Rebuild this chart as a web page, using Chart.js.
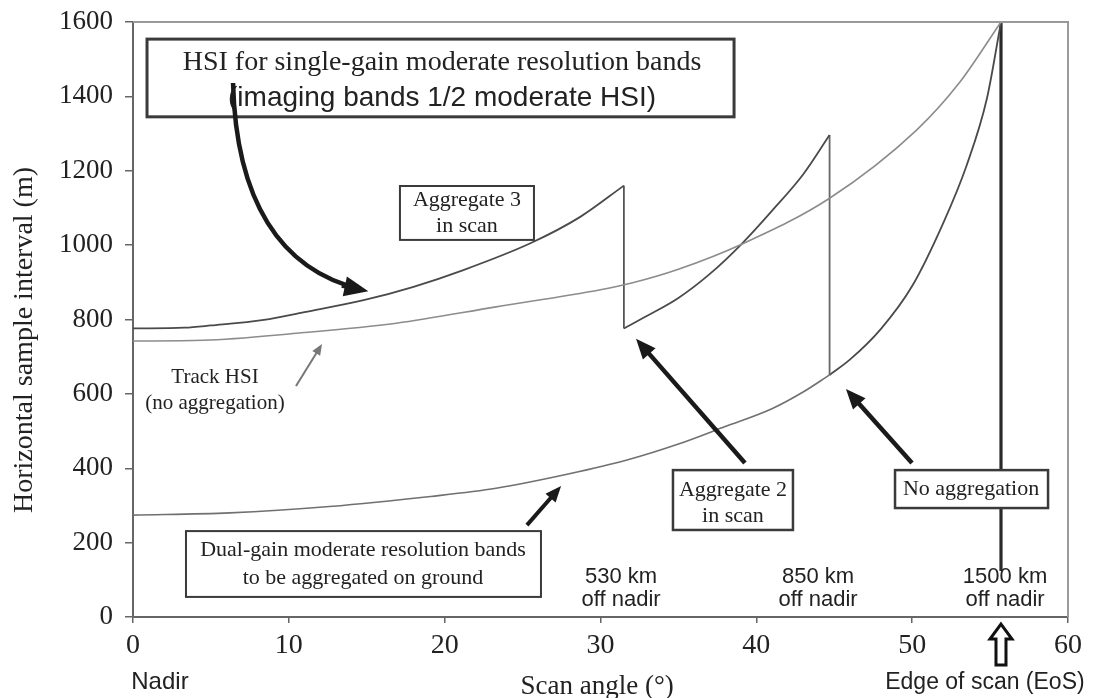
<!DOCTYPE html>
<html>
<head>
<meta charset="utf-8">
<script src="https://cdn.jsdelivr.net/npm/chart.js@4.4.1/dist/chart.umd.min.js"></script>
<style>
html,body{margin:0;padding:0;background:#fff}
#wrap{width:1094px;height:698px}
</style>
</head>
<body>
<div id="wrap"><canvas id="c"></canvas></div>
<script>
// scan angle (deg) and horizontal sample interval (m)
const eos=55.7;
const agg3X=[0,3.3,5,8.4,11,14.8,18,21.2,25.5,28.7,31.5];
const agg3Y=[776,778,784,799,820,852,888,933,1005,1076,1160];
const agg2X=[31.5,33,35,37,39.1,41,43,44.7];
const agg2Y=[776,810,858,922,1005,1092,1190,1296];
const noAggX=[44.7,46,48,50,52,53.5,54.8,55.7];
const noAggY=[651,692,775,890,1060,1215,1395,1600];
const dualX=[0,6.2,12.6,19.1,23.3,28,31.7,35,38,41,43,44.7];
const dualY=[274,280,297,324,346,385,422,465,512,560,605,651];
const trackX=[0,4.5,10.5,16.9,23.3,30,32,35,39.2,44.7,50.3,53,55.7];
const trackY=[742,744,763,790,834,880,898,935,1005,1126,1310,1435,1600];
const eosY=[1600,124];
const xTicks=[0,10,20,30,40,50,60];
const yTicks=[0,200,400,600,800,1000,1200,1400,1600];

const SERIF="'Liberation Serif','Times New Roman',serif";
const SANS="'Liberation Sans',Arial,sans-serif";
const INK="#222";

function pts(xs,ys){return xs.map((x,i)=>({x:x,y:ys[i]}));}
function line(data,color,width){
 return {data:data,borderColor:color,borderWidth:width,pointRadius:0,showLine:true,
  cubicInterpolationMode:'monotone',fill:false};
}

const datasets=[
 line(pts(trackX,trackY),'#8c8c8c',1.6),
 line(pts(dualX,dualY),'#707070',1.6),
 line(pts(agg3X,agg3Y),'#4a4a4a',1.8),
 line([{x:agg3X[agg3X.length-1],y:agg3Y[agg3Y.length-1]},{x:agg2X[0],y:agg2Y[0]}],'#555',1.8),
 line(pts(agg2X,agg2Y),'#4a4a4a',1.8),
 line([{x:agg2X[agg2X.length-1],y:agg2Y[agg2Y.length-1]},{x:noAggX[0],y:noAggY[0]}],'#666',1.8),
 line(pts(noAggX,noAggY),'#4a4a4a',1.8),
 line(pts([eos,eos],eosY),'#2a2a2a',3.2)
];

function arrow(ctx,x1,y1,x2,y2,lw,head,col){
 const a=Math.atan2(y2-y1,x2-x1),c=Math.cos(a),s=Math.sin(a);
 ctx.strokeStyle=col;ctx.fillStyle=col;ctx.lineWidth=lw;ctx.lineCap='butt';
 ctx.beginPath();ctx.moveTo(x1,y1);ctx.lineTo(x2-c*head*0.8,y2-s*head*0.8);ctx.stroke();
 ctx.beginPath();ctx.moveTo(x2,y2);
 ctx.lineTo(x2-head*c+head*0.42*s,y2-head*s-head*0.42*c);
 ctx.lineTo(x2-head*c-head*0.42*s,y2-head*s+head*0.42*c);
 ctx.closePath();ctx.fill();
}

const notes={
 id:'notes',
 afterDatasetsDraw(chart){
  const ctx=chart.ctx,X=v=>chart.scales.x.getPixelForValue(v),Y=v=>chart.scales.y.getPixelForValue(v);
  const a=chart.chartArea;
  ctx.save();
  // frame top/right
  ctx.strokeStyle='#9a9a9a';ctx.lineWidth=2;
  ctx.beginPath();ctx.moveTo(a.left,a.top);ctx.lineTo(a.right,a.top);ctx.lineTo(a.right,a.bottom);ctx.stroke();

  function box(x1,x2,y1,y2,lw){
   const l=X(x1),r=X(x2),t=Y(y1),b=Y(y2);
   ctx.fillStyle='#fff';ctx.fillRect(l,t,r-l,b-t);
   ctx.strokeStyle='#3a3a3a';ctx.lineWidth=lw;ctx.strokeRect(l,t,r-l,b-t);
  }
  function text(s,x,y,font,col){
   ctx.fillStyle=col||INK;ctx.font=font;ctx.textAlign='center';ctx.textBaseline='middle';
   ctx.fillText(s,X(x),Y(y));
  }

  // title box
  box(0.9,38.57,1554,1345,3);
  text('HSI for single-gain moderate resolution bands',19.83,1492,'28px '+SERIF);
  text('(imaging bands 1/2 moderate HSI)',19.83,1396,'28px '+SANS);

  // curved arrow
  ctx.strokeStyle='#1a1a1a';ctx.lineWidth=4.5;
  const sx=X(6.42),sy=Y(1436),c1x=X(6.61),c1y=Y(1121),c2x=X(9.43),c2y=Y(933),ex=X(14.6),ey=Y(882);
  ctx.beginPath();ctx.moveTo(sx,sy);ctx.bezierCurveTo(c1x,c1y,c2x,c2y,ex,ey);ctx.stroke();
  arrow(ctx,X(13.4),Y(891),X(15.1),Y(876),4.5,24,'#1a1a1a');

  box(17.13,25.73,1159,1014,2);
  text('Aggregate 3',21.43,1121,'22px '+SERIF);
  text('in scan',21.43,1051,'22px '+SERIF);

  text('Track HSI',5.26,645,'21px '+SERIF);
  text('(no aggregation)',5.26,575,'21px '+SERIF);
  arrow(ctx,X(10.46),Y(621),X(12.13),Y(734),2,11,'#777');

  arrow(ctx,X(25.28),Y(247),X(27.47),Y(352),4,16,'#1a1a1a');
  box(3.4,26.18,231,54,2);
  text('Dual-gain moderate resolution bands',14.76,180,'22px '+SERIF);
  text('to be aggregated on ground',14.76,105,'22px '+SERIF);

  arrow(ctx,X(39.27),Y(414),X(32.28),Y(748),4.5,20,'#1a1a1a');
  box(34.65,42.35,395,234,2.5);
  text('Aggregate 2',38.5,341,'22px '+SERIF);
  text('in scan',38.5,272,'22px '+SERIF);

  arrow(ctx,X(49.99),Y(414),X(45.75),Y(613),4.5,20,'#1a1a1a');
  box(48.9,58.72,395,293,2.5);
  text('No aggregation',53.78,344,'22px '+SERIF);

  text('530 km',31.32,108,'22px '+SANS);
  text('off nadir',31.32,46,'22px '+SANS);
  text('850 km',43.96,108,'22px '+SANS);
  text('off nadir',43.96,46,'22px '+SANS);
  text('1500 km',55.96,108,'22px '+SANS);
  text('off nadir',55.96,46,'22px '+SANS);

  // labels under the axis
  text('Nadir',1.73,-177,'24px '+SANS);
  text('Scan angle (\u00b0)',29.78,-188,'27px '+SERIF);
  text('Edge of scan (EoS)',54.67,-177,'23px '+SANS);

  // hollow EoS arrow
  const cx=X(eos),ty=Y(-19),by=Y(-129);
  ctx.beginPath();
  ctx.moveTo(cx,ty);ctx.lineTo(cx+11,ty+15);ctx.lineTo(cx+5,ty+15);ctx.lineTo(cx+5,by);
  ctx.lineTo(cx-5,by);ctx.lineTo(cx-5,ty+15);ctx.lineTo(cx-11,ty+15);ctx.closePath();
  ctx.fillStyle='#fff';ctx.fill();ctx.strokeStyle='#111';ctx.lineWidth=3;ctx.stroke();

  // y axis title
  ctx.translate(X(-6.93),Y(745));ctx.rotate(-Math.PI/2);
  ctx.fillStyle=INK;ctx.font='28px '+SERIF;ctx.textAlign='center';ctx.textBaseline='middle';
  ctx.fillText('Horizontal sample interval (m)',0,0);
  ctx.restore();
 }
};

new Chart(document.getElementById('c'),{
 type:'scatter',
 data:{datasets:datasets},
 options:{
  responsive:true,maintainAspectRatio:false,animation:false,
  layout:{padding:{top:22,right:26,left:0,bottom:0}},
  plugins:{legend:{display:false},tooltip:{enabled:false}},
  scales:{
   x:{type:'linear',min:0,max:60,
    afterBuildTicks:s=>{s.ticks=xTicks.map(v=>({value:v}));},
    afterFit:s=>{s.height=81;s.paddingLeft=0;s.paddingRight=0;},
    grid:{drawOnChartArea:false,drawTicks:true,tickLength:6,color:'#666',lineWidth:1.5},
    border:{display:true,color:'#666',width:2},
    ticks:{font:{family:SERIF,size:28},color:INK,padding:6,maxRotation:0,autoSkip:false}
   },
   y:{type:'linear',min:0,max:1600,
    afterBuildTicks:s=>{s.ticks=yTicks.map(v=>({value:v}));},
    afterFit:s=>{s.width=133;s.paddingTop=0;s.paddingBottom=0;},
    grid:{drawOnChartArea:false,drawTicks:true,tickLength:8,color:'#666',lineWidth:1.5},
    border:{display:true,color:'#666',width:2},
    ticks:{font:{family:SERIF,size:27},color:INK,padding:12,autoSkip:false,callback:v=>String(v)}
   }
  }
 },
 plugins:[notes]
});
</script>
</body>
</html>
